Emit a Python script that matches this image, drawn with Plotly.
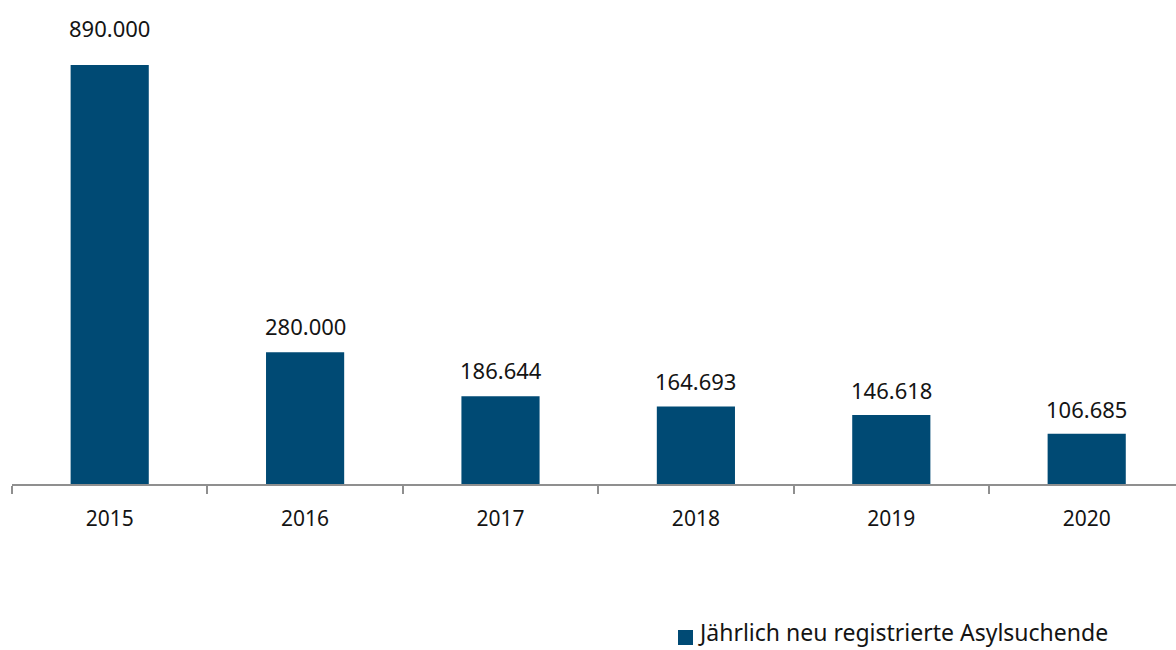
import plotly.graph_objects as go

years = ["2015", "2016", "2017", "2018", "2019", "2020"]
asylum_seekers = [890000, 280000, 186644, 164693, 146618, 106685]
series_name = "Jährlich neu registrierte Asylsuchende"

BAR_COLOR = "#004a74"
TEXT_COLOR = "#141414"
AXIS_COLOR = "#8f8f8f"
FONT = "Noto Sans"

# layout geometry (pixels)
W, H = 1176, 650
left, top, bottom_px = 12, 10, 484
plot_w = W - left
plot_h = bottom_px - top
px_per_unit = 419 / 890000
ymax = plot_h / px_per_unit
cat_px = 195.4
x_end = -0.5 + plot_w / cat_px

label_shift = [37, 26, 26, 25, 25, 25]


def px_x(px):
    return (px - left) / plot_w


def px_y(py):
    return (bottom_px - py) / plot_h


fig = go.Figure()
fig.add_trace(go.Bar(
    x=years, y=asylum_seekers, name=series_name,
    marker=dict(color=BAR_COLOR, line=dict(width=0)),
    width=0.4, showlegend=False,
))

# value labels (category index positions on the category axis)
for i, (v, s) in enumerate(zip(asylum_seekers, label_shift)):
    fig.add_annotation(
        x=i, y=v, xref="x", yref="y", text=f"{v:,}".replace(",", "."),
        showarrow=False, yshift=s, yanchor="middle",
        font=dict(family=FONT, size=22, color=TEXT_COLOR),
    )

# legend (manual, to match swatch/text spacing)
fig.add_shape(
    type="rect", xref="paper", yref="paper",
    x0=px_x(678), x1=px_x(693), y0=px_y(645), y1=px_y(630),
    fillcolor=BAR_COLOR, line=dict(width=0),
)
fig.add_annotation(
    xref="paper", yref="paper", x=px_x(696), y=px_y(650),
    xanchor="left", yanchor="bottom", showarrow=False, text=series_name,
    font=dict(family=FONT, size=23, color=TEXT_COLOR),
)

fig.update_layout(
    width=W, height=H,
    margin=dict(l=left, r=0, t=top, b=H - bottom_px),
    plot_bgcolor="white", paper_bgcolor="white",
    separators=",.",
    font=dict(family=FONT, size=21, color=TEXT_COLOR),
    showlegend=False,
    xaxis=dict(
        type="category", range=[-0.5, x_end],
        showline=True, linecolor=AXIS_COLOR, linewidth=2,
        ticks="outside", tickson="boundaries", ticklen=8,
        tickcolor=AXIS_COLOR, tickwidth=2,
        showgrid=False, zeroline=False,
        tickfont=dict(family=FONT, size=21, color=TEXT_COLOR),
        ticklabelstandoff=15,
    ),
    yaxis=dict(
        range=[0, ymax], showticklabels=False, showline=False,
        showgrid=False, zeroline=False, ticks="",
    ),
)

fig.write_html(
    "out.html",
    config={"displayModeBar": False},
    post_script="document.body.style.margin='0';document.body.style.overflow='hidden';",
)
